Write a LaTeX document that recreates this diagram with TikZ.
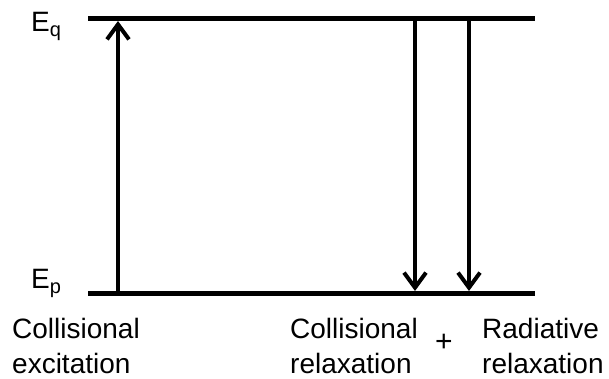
\documentclass[tikz,border=0pt]{standalone}
\usepackage{fontspec}
\setmainfont{Liberation Sans}
\usetikzlibrary{arrows.meta, positioning}

\begin{document}
\begin{tikzpicture}[
    x=1pt, y=-1pt,
    >={Straight Barb[length=15pt, width=22pt]},
    level/.style={line width=5pt},
    trans/.style={->, line width=4pt},
    lab/.style={anchor=base west, inner sep=0pt, align=left,
                font=\fontsize{28}{35}\selectfont}
  ]
  \useasboundingbox (0,0) rectangle (609,379);

  % energy levels
  \coordinate (qL) at (88,19);
  \coordinate (qR) at (535,19);
  \coordinate (pL) at (88,293);
  \coordinate (pR) at (535,293);
  \draw[level] (qL) -- (qR);
  \draw[level] (pL) -- (pR);

  \node[lab] (Eq) at (31,32)
    {E\raisebox{-5pt}{\fontsize{20}{20}\selectfont q}};
  \node[lab] (Ep) at (31,288)
    {E\raisebox{-5pt}{\fontsize{20}{20}\selectfont p}};

  % transitions
  \coordinate (exc0) at (118,293);
  \coordinate (exc1) at (118,21);
  \coordinate (col0) at (415,19);
  \coordinate (col1) at (415,291);
  \coordinate (rad0) at (469,19);
  \coordinate (rad1) at (469,291);
  \draw[trans] (exc0) -- (exc1);
  \draw[trans] (col0) -- (col1);
  \draw[trans] (rad0) -- (rad1);

  % second-line baselines
  \node[lab] (excl) at (12,373) {Collisional\\excitation};
  \node[lab] (coll) at (290,373) {Collisional\\relaxation};
  \node[lab] (radl) at (482,373) {Radiative\\relaxation};
  \node[font=\fontsize{30}{30}\selectfont, inner sep=0pt] (plus) at (444,343) {+};
\end{tikzpicture}
\end{document}
